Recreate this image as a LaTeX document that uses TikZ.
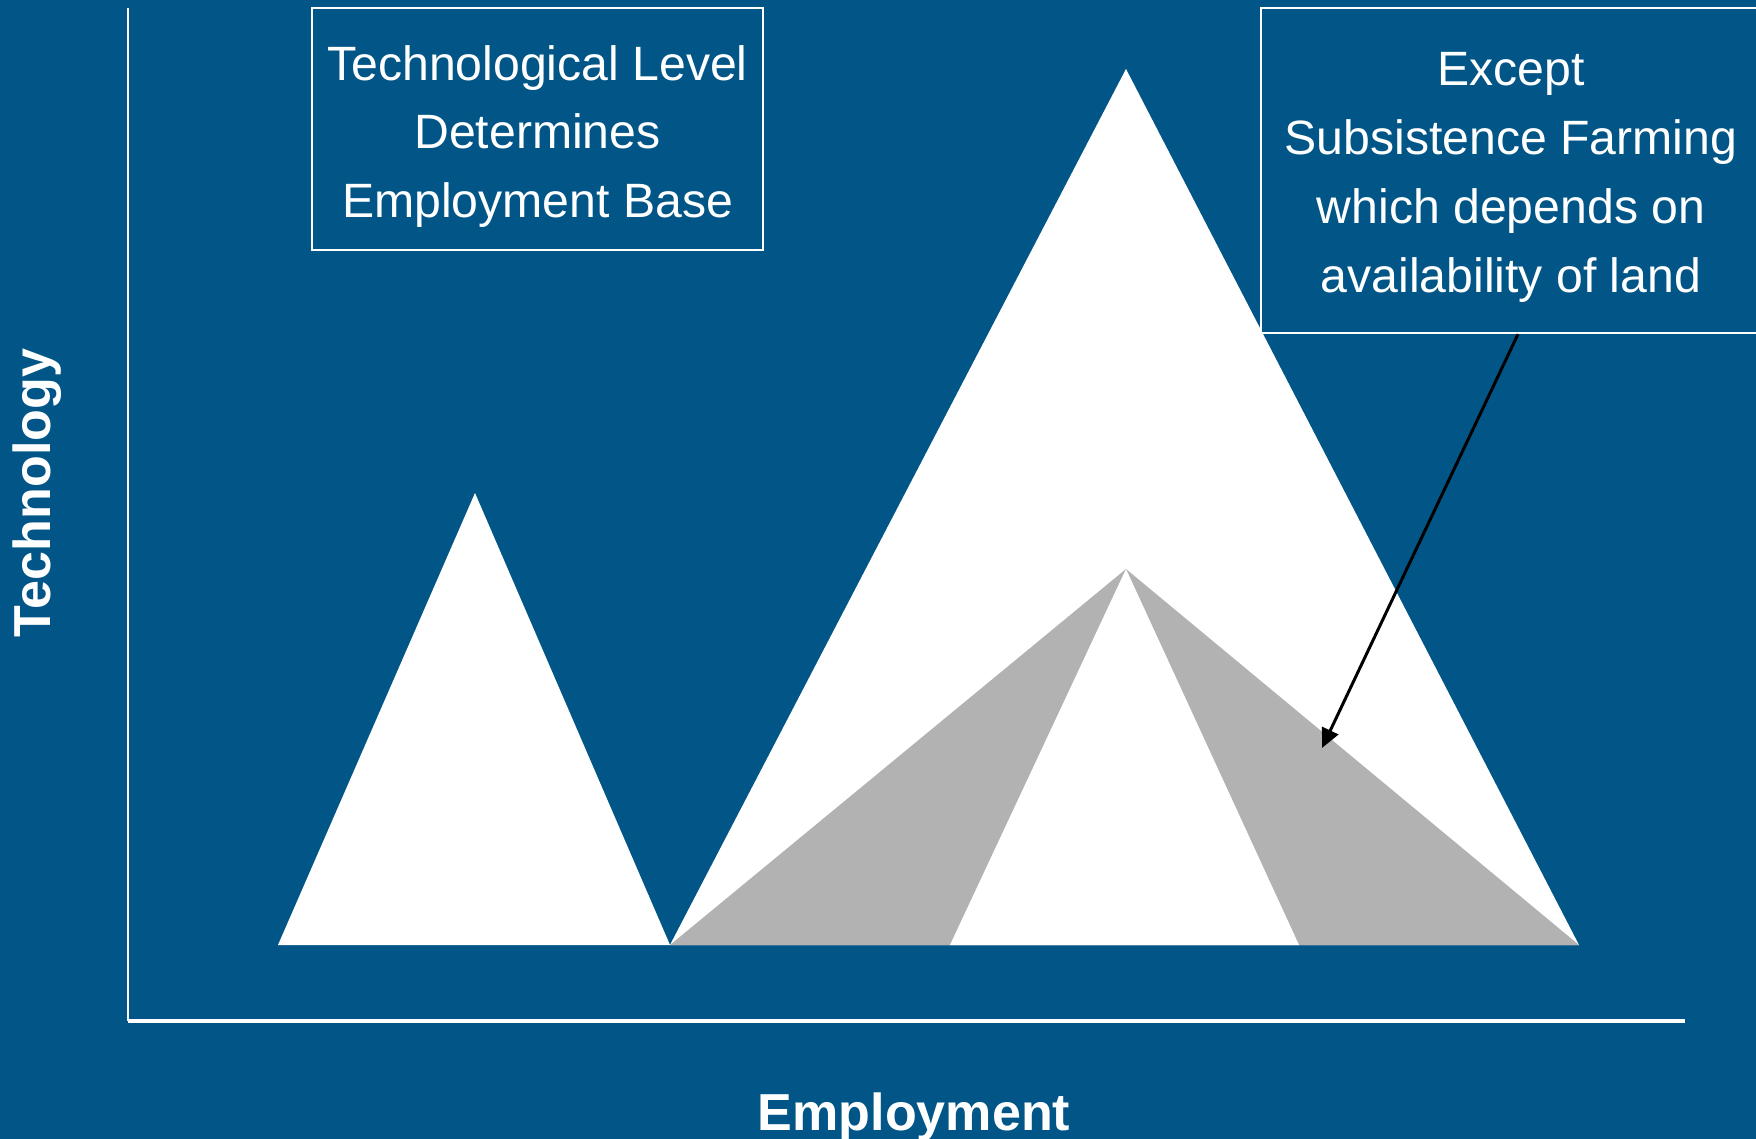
\documentclass[tikz,border=0pt]{standalone}
\usepackage{fontspec}
\setmainfont{Liberation Sans}
\usepackage{tikz}
\usetikzlibrary{arrows.meta, positioning}
\definecolor{slideblue}{RGB}{2,86,135}
\definecolor{landgray}{RGB}{178,178,178}

\begin{document}
\begin{tikzpicture}[
    x=0.01cm, y=-0.01cm,
    frame/.style={rectangle, draw=white, line width=0.6pt, inner sep=0pt},
    boxtext/.style={text=white, align=center, inner sep=0pt,
        font=\fontsize{13.7pt}{19.6pt}\selectfont},
    axislabel/.style={text=white, inner sep=0pt, font=\fontsize{14.8pt}{17pt}\selectfont\bfseries},
    peak/.style={fill=white},
    land/.style={fill=landgray},
    pointer/.style={-{Triangle[length=5.5pt,width=5pt]}, line width=0.85pt, black}
]

% === BACKGROUND ===
\clip (0,0) rectangle (1756,1139);
\fill[slideblue] (0,0) rectangle (1756,1139);

% === AXES ===
\coordinate (origin) at (128,1021);
\coordinate (ytop) at (128,8);
\coordinate (xend) at (1685,1021);
\draw[white, line width=0.7pt] (ytop) -- (origin);
\draw[white, line width=0.9pt] (origin) -- (xend);

\node[axislabel, anchor=base] (xlabel) at (914,1130) {Employment};
\node[axislabel, anchor=base, rotate=90] (ylabel) at (51,493) {Technology};

% === PEAKS ===
% small peak
\fill[peak] (278,945) -- (475,493) -- (670,945) -- cycle;
% large peak
\fill[peak] (670,945) -- (1126,69) -- (1579,945) -- cycle;
% land-based share inside the large peak
\fill[land] (670,945) -- (1126,569) -- (1579,945) -- cycle;
\fill[peak] (950,945) -- (1126,569) -- (1299,945) -- cycle;

% === TEXT BOXES ===
\node[frame, minimum width=4.51cm, minimum height=2.42cm] (levelbox) at (537.5,129) {};
\node[boxtext] (leveltext) at (537.5,136.5) {Technological Level\\Determines\\Employment Base};

\node[frame, minimum width=5.01cm, minimum height=3.25cm] (exceptbox) at (1511.5,170.5) {};
\node[boxtext] (excepttext) at (1511,177.5) {Except\\Subsistence Farming\\which depends on\\availability of land};

% Pointer into the gray band
\coordinate (tip) at (1322,748);
\draw[pointer] ([xshift=0.065cm]exceptbox.south) -- (tip);

\end{tikzpicture}
\end{document}
